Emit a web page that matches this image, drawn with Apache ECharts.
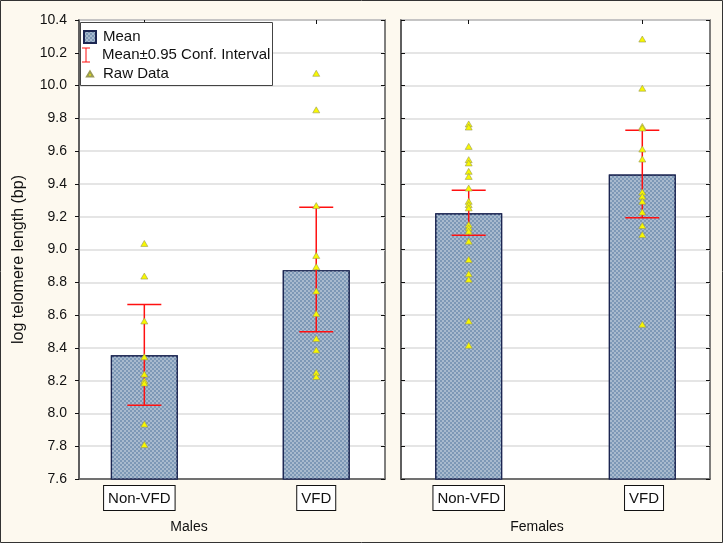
<!DOCTYPE html>
<html>
<head>
<meta charset="utf-8">
<script src="https://cdn.jsdelivr.net/npm/echarts@6/dist/echarts.min.js"></script>
<style>
html,body{margin:0;padding:0;background:#fdf9ef;}
#chart{width:723px;height:543px;}
</style>
</head>
<body>
<div id="chart"></div>
<script>
// ---- data ----
const categories = ['Non-VFD', 'VFD'];
const groups = ['Males', 'Females'];
const meanMales = [8.355, 8.874];
const meanFemales = [9.221, 9.457];
const ciLowMales = [8.05, 8.499];
const ciHighMales = [8.665, 9.258];
const ciLowFemales = [9.087, 9.193];
const ciHighFemales = [9.361, 9.727];
const rawMalesNonVFD = [9.037, 8.838, 8.564, 8.345, 8.24, 8.20, 8.185, 7.935, 7.81];
const rawMalesVFD = [10.075, 9.852, 9.268, 8.964, 8.895, 8.747, 8.61, 8.457, 8.387, 8.25, 8.225];
const rawFemalesNonVFD = [9.766, 9.747, 9.629, 9.548, 9.528, 9.477, 9.446, 9.375, 9.294, 9.274, 9.254, 9.152, 9.132, 9.112, 9.051, 8.939, 8.852, 8.818, 8.564, 8.416];
const rawFemalesVFD = [10.284, 9.984, 9.751, 9.741, 9.613, 9.552, 9.351, 9.325, 9.294, 9.229, 9.146, 9.091, 8.544];
const yMin = 7.6, yMax = 10.4, yStep = 0.2;
const legendNames = ['Mean', 'Mean\u00b10.95 Conf. Interval', 'Raw Data'];

// ---- build ----
const FONT = "'Liberation Sans', Arial, sans-serif";
const chart = echarts.init(document.getElementById('chart'));

function pairs(vals, pos) { return vals.map(v => [pos, v]); }
const catPos = categories.map((c, i) => i + 1);

const barStyle = {
  color: '#7d98b6',
  borderColor: '#1c2652',
  borderWidth: 1.2,
  decal: {
    symbol: 'rect', symbolSize: 1,
    dashArrayX: [[2, 2], [0, 2, 2, 0]],
    dashArrayY: [2, 0],
    color: 'rgba(175,192,210,0.85)'
  }
};

function ciRender(params, api) {
  const x = api.value(0), lo = api.value(1), hi = api.value(2);
  const a = api.coord([x, lo]), b = api.coord([x, hi]);
  const hw = 17;
  const st = { stroke: '#ff1010', lineWidth: 1.5, fill: null };
  return {
    type: 'group',
    children: [
      { type: 'line', shape: { x1: a[0], y1: a[1], x2: b[0], y2: b[1] }, style: st },
      { type: 'line', shape: { x1: a[0] - hw, y1: a[1], x2: a[0] + hw, y2: a[1] }, style: st },
      { type: 'line', shape: { x1: b[0] - hw, y1: b[1], x2: b[0] + hw, y2: b[1] }, style: st }
    ]
  };
}

function xAxes(gridIndex, min, max, name, pad, labelPos) {
  return [
    {
      gridIndex, type: 'value', min, max, position: 'bottom',
      name, nameLocation: 'middle', nameGap: 41,
      nameTextStyle: { fontFamily: FONT, fontSize: 14, color: '#111', padding: pad },
      axisLine: { show: true, lineStyle: { color: '#555', width: 1.5 } },
      splitLine: { show: false },
      axisTick: { show: true, inside: true, length: 4, customValues: catPos, lineStyle: { color: '#111' } },
      axisLabel: {
        show: true, customValues: labelPos, margin: 7,
        formatter: v => categories[Math.round(v) - 1],
        fontFamily: FONT, fontSize: 15, color: '#111',
        backgroundColor: '#fff', borderColor: '#111', borderWidth: 1,
        padding: [5, 4, 4, 4]
      }
    },
    {
      gridIndex, type: 'value', min, max, position: 'top',
      axisLine: { show: false }, splitLine: { show: false },
      axisLabel: { show: false },
      axisTick: { show: true, inside: true, length: 4, customValues: catPos, lineStyle: { color: '#111' } }
    }
  ];
}

function yAxes(gridIndex, labels) {
  return [
    {
      gridIndex, type: 'value', min: yMin, max: yMax, interval: yStep, position: 'left',
      name: labels ? 'log telomere length (bp)' : '',
      nameLocation: 'middle', nameGap: 52,
      nameTextStyle: { fontFamily: FONT, fontSize: 16, color: '#111', padding: [0, 20, 0, 0] },
      axisLine: { show: true, lineStyle: { color: '#555', width: 1.5 } },
      axisTick: { show: true, inside: !labels, length: 4, lineStyle: { color: '#111' } },
      axisLabel: { show: labels, margin: 12, formatter: v => v.toFixed(1), fontFamily: FONT, fontSize: 14, color: '#111' },
      splitLine: { show: true, lineStyle: { color: '#dcdcdc', width: 1.5 } }
    },
    {
      gridIndex, type: 'value', min: yMin, max: yMax, interval: yStep, position: 'right',
      axisLine: { show: false }, splitLine: { show: false }, axisLabel: { show: false },
      axisTick: { show: true, inside: true, length: 4, lineStyle: { color: '#111' } }
    }
  ];
}

const gridCommon = { show: true, backgroundColor: '#fff', borderColor: '#555', borderWidth: 1.5, containLabel: false };
const legendText = { fontFamily: FONT, fontSize: 15, color: '#111', lineHeight: 18 };

const option = {
  backgroundColor: '#fdf9ef',
  animation: false,
  textStyle: { fontFamily: FONT },
  grid: [
    Object.assign({ left: 79, top: 20, width: 306, height: 459 }, gridCommon),
    Object.assign({ left: 401, top: 20, width: 309, height: 459 }, gridCommon)
  ],
  xAxis: [
    ...xAxes(0, 0.62, 2.40, groups[0], [0, 86, 0, 0], [0.971, 2]),
    ...xAxes(1, 0.61, 2.39, groups[1], [0, 37, 0, 0], [1, 2.01])
  ],
  yAxis: [...yAxes(0, true), ...yAxes(1, false)],
  legend: [
    {
      selectedMode: false, orient: 'vertical', padding: 0, left: 83, top: 28, itemWidth: 12, itemHeight: 12, z: 10,
      data: [{ name: legendNames[0], icon: 'rect' }],
      textStyle: Object.assign({ padding: [0, 0, 0, 2] }, legendText)
    },
    {
      selectedMode: false, orient: 'vertical', padding: 0, left: 82, top: 46, itemWidth: 8, itemHeight: 15, z: 10,
      data: [{ name: legendNames[1], icon: 'path://M0,0L8,0L8,1L4.5,1L4.5,14L8,14L8,15L0,15L0,14L3.5,14L3.5,1L0,1Z' }],
      textStyle: Object.assign({ padding: [0, 0, 0, 7] }, legendText)
    },
    {
      selectedMode: false, orient: 'vertical', padding: 0, left: 86, top: 65, itemWidth: 6, itemHeight: 5, z: 10,
      data: [{ name: legendNames[2], icon: 'triangle' }],
      textStyle: Object.assign({ padding: [0, 0, 0, 5] }, legendText)
    }
  ],
  graphic: [
    { type: 'rect', z: 5, shape: { x: 80.5, y: 22.5, width: 192, height: 63 }, style: { fill: '#fff', stroke: '#444', lineWidth: 1 } },
    { type: 'rect', z: 100, silent: true, shape: { x: 0.5, y: 0.5, width: 722, height: 542 }, style: { fill: null, stroke: '#333', lineWidth: 1 } }
  ],
  series: [
    { type: 'bar', name: legendNames[0], xAxisIndex: 0, yAxisIndex: 0, barWidth: 67, itemStyle: barStyle, z: 2,
      data: meanMales.map((v, i) => [catPos[i], v]) },
    { type: 'bar', name: legendNames[0], xAxisIndex: 2, yAxisIndex: 2, barWidth: 67, itemStyle: barStyle, z: 2,
      data: meanFemales.map((v, i) => [catPos[i], v]) },
    { type: 'custom', name: legendNames[1], xAxisIndex: 0, yAxisIndex: 0, renderItem: ciRender, z: 3,
      itemStyle: { color: '#ff1010' },
      data: ciLowMales.map((v, i) => [catPos[i], v, ciHighMales[i]]) },
    { type: 'custom', name: legendNames[1], xAxisIndex: 2, yAxisIndex: 2, renderItem: ciRender, z: 3,
      itemStyle: { color: '#ff1010' },
      data: ciLowFemales.map((v, i) => [catPos[i], v, ciHighFemales[i]]) },
    { type: 'scatter', name: legendNames[2], xAxisIndex: 0, yAxisIndex: 0, symbol: 'triangle', symbolSize: [7, 6], z: 4,
      itemStyle: { color: '#f8f800', borderColor: '#9a9a55', borderWidth: 0.6, opacity: 1 },
      data: [...pairs(rawMalesNonVFD, 1), ...pairs(rawMalesVFD, 2)] },
    { type: 'scatter', name: legendNames[2], xAxisIndex: 2, yAxisIndex: 2, symbol: 'triangle', symbolSize: [7, 6], z: 4,
      itemStyle: { color: '#f8f800', borderColor: '#9a9a55', borderWidth: 0.6, opacity: 1 },
      data: [...pairs(rawFemalesNonVFD, 1), ...pairs(rawFemalesVFD, 2)] }
  ]
};
chart.setOption(option);
</script>
</body>
</html>
